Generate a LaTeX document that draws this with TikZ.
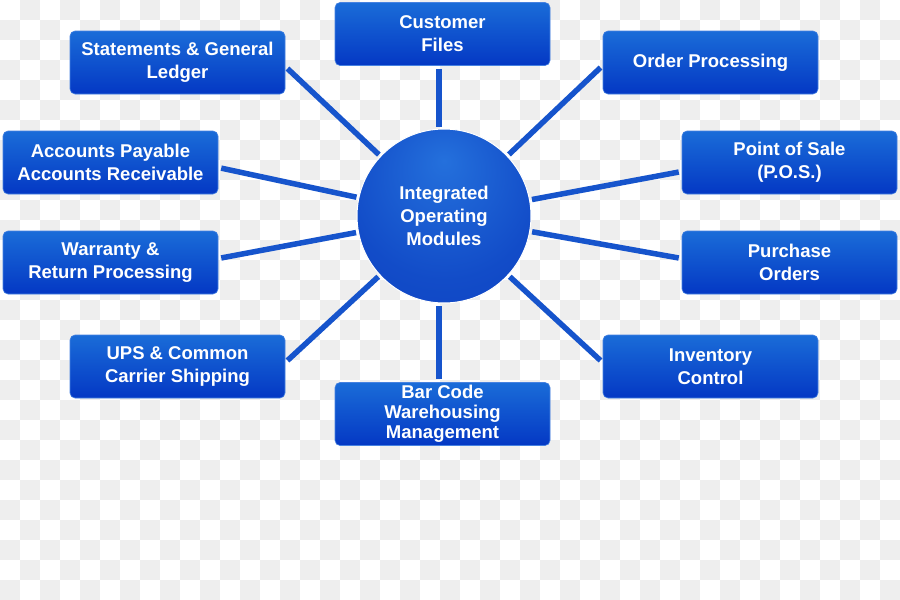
\documentclass[tikz,border=0pt]{standalone}
\usepackage{fontspec}
\setmainfont{Liberation Sans}
\definecolor{boxtop}{RGB}{26,108,216}
\definecolor{boxbot}{RGB}{4,56,196}
\definecolor{boxedge}{RGB}{70,130,225}
\definecolor{linecol}{RGB}{22,84,204}
\definecolor{circin}{RGB}{36,112,220}
\definecolor{circmid}{RGB}{18,76,200}
\definecolor{circout}{RGB}{10,56,190}
\definecolor{checker}{RGB}{238,238,238}
\pgfdeclareradialshading{hubshade}{\pgfpoint{0bp}{16bp}}{%
  color(0bp)=(circin); color(28bp)=(circmid); color(60bp)=(circout); color(70bp)=(circout)}
\tikzset{
  modbox/.style={rectangle, rounded corners=5pt, minimum width=215pt, minimum height=63pt,
    top color=boxtop, bottom color=boxbot, draw=boxedge, line width=0.6pt,
    text=white, align=center, inner sep=0pt,
    font=\bfseries\fontsize{18.5}{23}\selectfont},
  hub/.style={circle, minimum size=174pt, inner sep=0pt, shading=hubshade,
    draw=white, line width=1pt,
    text=white, align=center, font=\bfseries\fontsize{18.5}{23}\selectfont},
  conn/.style={draw=linecol, line width=5.5pt, shorten <=3pt, shorten >=2pt}
}
\begin{document}
\begin{tikzpicture}[x=1pt,y=-1pt]
\useasboundingbox (0,0) rectangle (900,600);
\fill[white] (0,0) rectangle (900,600);
\foreach \i in {0,...,44}{
  \foreach \j in {0,...,29}{
    \pgfmathtruncatemacro{\myparity}{mod(\i+\j,2)}
    \ifnum\myparity=1 \fill[checker] (\i*20,\j*20) rectangle ++(20,20);\fi
  }
}
\node[hub] (c) at (444,216) {Integrated\\Operating\\Modules};
\node[modbox] (cust) at (442.5,34) {Customer\\Files};
\node[modbox] (stm) at (177.5,62.5) {Statements \& General\\Ledger};
\node[modbox] (acc) at (110.5,162.5) {Accounts Payable\\Accounts Receivable};
\node[modbox] (war) at (110.5,262.5) {Warranty \&\\Return Processing};
\node[modbox] (ups) at (177.5,366.5) {UPS \& Common\\Carrier Shipping};
\node[modbox, font=\bfseries\fontsize{18.5}{20}\selectfont] (bar) at (442.5,414) {Bar Code\\Warehousing\\Management};
\node[modbox] (ord) at (710.5,62.5) {Order Processing};
\node[modbox] (pos) at (789.5,162.5) {Point of Sale\\(P.O.S.)};
\node[modbox] (pur) at (789.5,262.5) {Purchase\\Orders};
\node[modbox] (inv) at (710.5,366.5) {Inventory\\Control};
\draw[conn] ([xshift=-3.5pt]cust.south) -- ([xshift=-3.5pt]cust.south |- c.north);
\draw[conn] ([xshift=-3.5pt]bar.north) -- ([xshift=-3.5pt]bar.north |- c.south);
\draw[conn] ([yshift=-4pt]stm.east) -- (c);
\draw[conn] ([yshift=-5pt]acc.east) -- (c);
\draw[conn] ([yshift=4pt]war.east) -- (c);
\draw[conn] ([yshift=4pt]ups.east) -- (c);
\draw[conn] ([yshift=-3pt]ord.west) -- (c);
\draw[conn] ([yshift=-9pt]pos.west) -- (c);
\draw[conn] ([yshift=4pt]pur.west) -- (c);
\draw[conn] ([yshift=4pt]inv.west) -- (c);
\end{tikzpicture}
\end{document}
